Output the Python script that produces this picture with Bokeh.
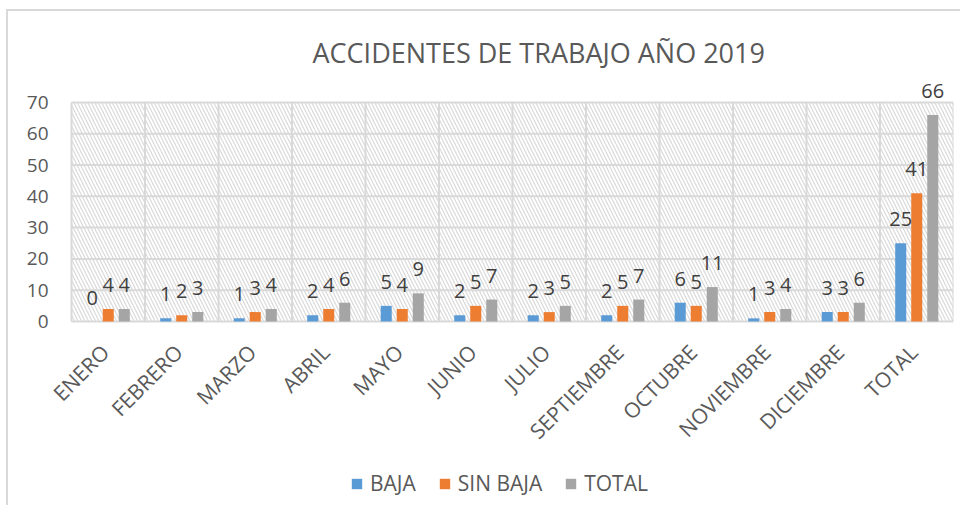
from math import pi
from bokeh.plotting import figure
from bokeh.models import (Range1d, ColumnDataSource, LabelSet, Legend, LegendItem, Title)
from bokeh.core.properties import value
from bokeh.embed import file_html
from bokeh.resources import INLINE

months = ["ENERO", "FEBRERO", "MARZO", "ABRIL", "MAYO", "JUNIO", "JULIO",
          "SEPTIEMBRE", "OCTUBRE", "NOVIEMBRE", "DICIEMBRE", "TOTAL"]
baja = [0, 1, 1, 2, 5, 2, 2, 2, 6, 1, 3, 25]
sin_baja = [4, 2, 3, 4, 4, 5, 3, 5, 5, 3, 3, 41]
total = [4, 3, 4, 6, 9, 7, 5, 7, 11, 4, 6, 66]
series_names = ["BAJA", "SIN BAJA", "TOTAL"]
series_colors = ["#5B9BD5", "#ED7D31", "#A5A5A5"]
y_ticks = [0, 10, 20, 30, 40, 50, 60, 70]
title_text = "ACCIDENTES DE TRABAJO AÑO 2019"

FONT = "Open Sans"
GRID = "#d9d9d9"
TXT = "#595959"

n = len(months)
y_top = y_ticks[-1]

# value area: 12 categories over 882px, values 0..77 over 241px.
# The frame is extended left and below so that tick labels, category labels
# and the legend (all annotations) are drawn inside it.
CAT_PX = 882 / n
LEFT_PX = 55
Y_END = 77
AREA_PX = 241
FRAME_H = 425
yscale = AREA_PX / Y_END
y_start = -(FRAME_H - AREA_PX) / yscale
x_start = -LEFT_PX / CAT_PX

p = figure(x_range=Range1d(x_start, n), y_range=Range1d(y_start, Y_END),
           frame_width=882 + LEFT_PX, frame_height=FRAME_H,
           min_border_left=8, min_border_right=7, min_border_top=69, min_border_bottom=0,
           output_backend="svg", toolbar_location=None)
p.outline_line_color = None
p.xgrid.visible = False
p.ygrid.visible = False
p.xaxis.visible = False
p.yaxis.visible = False
p.styles = {"margin-left": "6px", "margin-top": "9px",
            "border-left": "2px solid #d9d9d9", "border-top": "2px solid #d9d9d9"}

# hatched plot area
p.quad(left=[0], right=[n], bottom=[0], top=[y_top], fill_color=None, line_color=None,
       hatch_pattern="\\", hatch_color=GRID, hatch_scale=7, hatch_weight=1.2)
# grid lines
p.segment(x0=[0] * len(y_ticks), x1=[n] * len(y_ticks), y0=y_ticks, y1=y_ticks,
          line_color=GRID, line_width=2)
xs = list(range(n + 1))
p.segment(x0=xs, x1=xs, y0=[0] * len(xs), y1=[y_top] * len(xs),
          line_color=GRID, line_width=2)

centers = [i + 0.5 for i in range(n)]
cols = ["baja", "sin_baja", "total"]
offsets = [-0.218, 0.0, 0.218]
series = [baja, sin_baja, total]
items = []
for vals, name, color, off in zip(series, series_names, series_colors, offsets):
    s = ColumnDataSource(dict(x=[c + off for c in centers], top=vals,
                              t=[str(v) for v in vals]))
    r = p.vbar(x="x", top="top", width=0.15, source=s, fill_color=color, line_color=None)
    items.append(LegendItem(label=name, renderers=[r]))
    p.add_layout(LabelSet(x="x", y="top", text="t", source=s,
                          text_align="center", text_baseline="middle",
                          y_offset=24, text_font=value(FONT), text_font_size="20px",
                          text_color="#404040"))

# category labels (rotated), below the value area
cat_src = ColumnDataSource(dict(x=centers, y=[0] * n, t=months))
p.add_layout(LabelSet(x="x", y="y", text="t", source=cat_src,
                      angle=pi / 4, text_align="right", text_baseline="top",
                      x_offset=-13, y_offset=-17, text_font=value(FONT),
                      text_font_size="21px", text_color=TXT))

# value tick labels, left of the value area
tick_src = ColumnDataSource(dict(x=[0] * len(y_ticks), y=y_ticks,
                                 t=[str(v) for v in y_ticks]))
p.add_layout(LabelSet(x="x", y="y", text="t", source=tick_src,
                      text_align="right", text_baseline="middle",
                      x_offset=-23, text_font=value(FONT),
                      text_font_size="19px", text_color=TXT))

legend = Legend(items=items, orientation="horizontal", location=(279 + LEFT_PX, 8),
                border_line_color=None, background_fill_alpha=0,
                label_text_font=FONT, label_text_font_size="21px", label_text_color=TXT,
                glyph_width=13, glyph_height=13, label_standoff=7, spacing=22,
                margin=0, padding=0)
p.add_layout(legend, "center")

p.add_layout(Title(text=title_text, align="left", offset=241 + LEFT_PX, standoff=20,
                   text_font=FONT, text_font_size="27px", text_font_style="normal",
                   text_color=TXT), "above")

open("out.html", "w").write(file_html(p, INLINE))
